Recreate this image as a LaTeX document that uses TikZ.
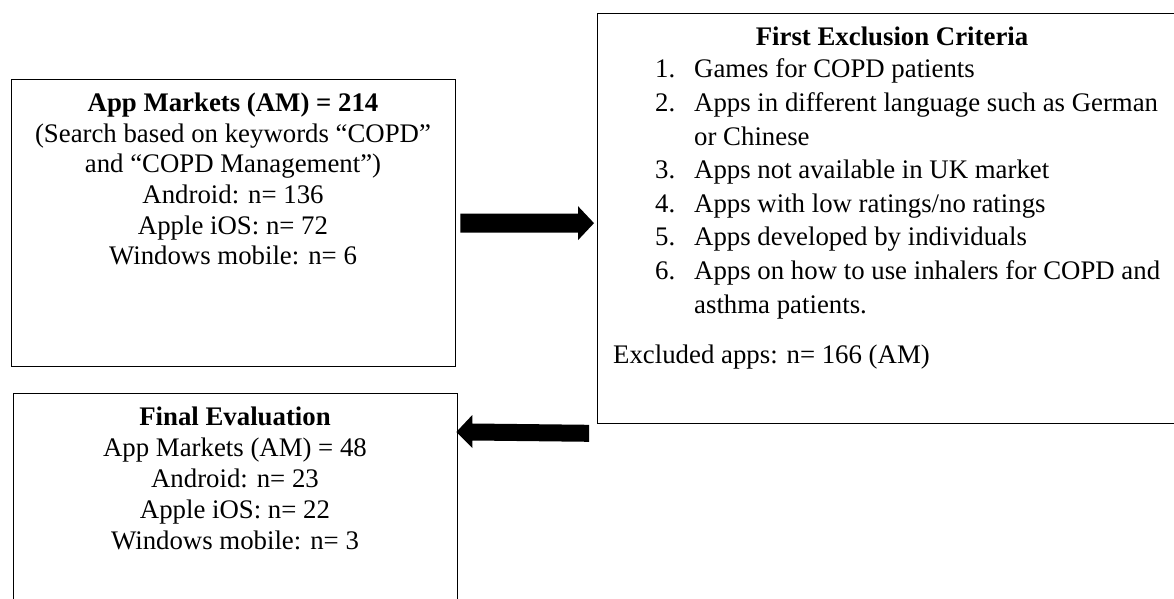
\documentclass[tikz,border=0pt]{standalone}
\usepackage{fontspec}
\setmainfont{Liberation Serif}
\usetikzlibrary{calc}
\begin{document}
\begin{tikzpicture}[x=1pt,y=-1pt,
  box/.style={draw=black, line width=1.3pt, rectangle, inner sep=0pt, anchor=north west},
  txt/.style={inner sep=0pt, font=\fontsize{26.8}{30.7}\selectfont},
  blockarrow/.style={fill=black}]
\useasboundingbox (0,0) rectangle (1174,599);
% boxes
\node[box, minimum width=444pt, minimum height=287pt] (am) at (11,79) {};
\node[box, minimum width=588pt, minimum height=410pt] (fe) at (597,13) {};
\node[box, minimum width=444pt, minimum height=240pt] (fv) at (13,393) {};
% box 1 text
\node[txt, anchor=base] (amt) at (233,111.5) {\begin{tabular}[t]{@{}c@{}}\textbf{App Markets (AM) = 214}\\ (Search based on keywords “COPD”\\ and “COPD Management”)\\ Android: n= 136\\ Apple iOS: n= 72\\ Windows mobile: n= 6\end{tabular}};
% box 2 text
\node[txt, anchor=base] (fet) at (892,46) {\textbf{First Exclusion Criteria}};
\node[txt, anchor=base west] (fel) at (655,78) {\fontsize{26.8}{33.6}\selectfont\begin{tabular}[t]{@{}p{39pt}@{}l@{}}1. & Games for COPD patients\\ 2. & Apps in different language such as German\\ & or Chinese\\ 3. & Apps not available in UK market\\ 4. & Apps with low ratings/no ratings\\ 5. & Apps developed by individuals\\ 6. & Apps on how to use inhalers for COPD and\\ & asthma patients.\end{tabular}};
\node[txt, anchor=base west] (fex) at (613,363) {Excluded apps: n= 166 (AM)};
% box 3 text
\node[txt, anchor=base] (fvt) at (235,425.5) {\fontsize{26.8}{30.9}\selectfont\begin{tabular}[t]{@{}c@{}}\textbf{Final Evaluation}\\ App Markets (AM) = 48\\ Android: n= 23\\ Apple iOS: n= 22\\ Windows mobile: n= 3\end{tabular}};
% right block arrow
\coordinate (rt) at ($(fe.west|-am.east)+(-3,0)$);
\coordinate (rs) at ($(am.east)+(4,0)$);
\fill[blockarrow] ($(rs)+(0,-9.5)$) -- ($(rt)+(-16,-9.5)$) -- ($(rt)+(-16,-17)$) -- (rt) -- ($(rt)+(-16,17)$) -- ($(rt)+(-16,9.5)$) -- ($(rs)+(0,9.5)$) -- cycle;
% left block arrow
\coordinate (lt) at ($(fv.north east)+(-2,39)$);
\coordinate (lb) at ($(fe.south west)+(-8,9)$);
\fill[blockarrow] (lt) -- ($(lt)+(16,-17)$) -- ($(lt)+(16,-8.5)$) -- ($(lb)+(0,-8.5)$) -- ($(lb)+(0,8.5)$) -- ($(lt)+(16,8.5)$) -- ($(lt)+(16,16)$) -- cycle;
\end{tikzpicture}
\end{document}
